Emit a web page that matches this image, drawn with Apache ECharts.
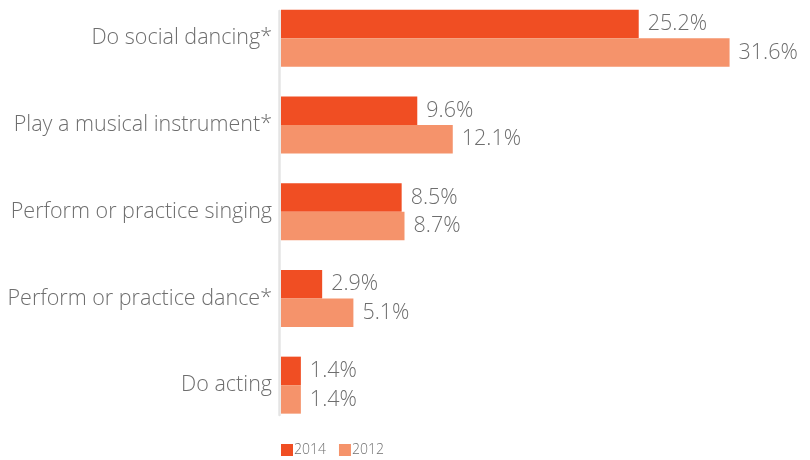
<!DOCTYPE html>
<html><head><meta charset="utf-8">
<script src="https://cdn.jsdelivr.net/npm/echarts@6/dist/echarts.min.js"></script>
<style>html,body{margin:0;padding:0;background:#fff;overflow:hidden}#c{width:810px;height:465px;margin-top:-5px}</style>
</head><body><div id="c"></div>
<script>
const categories = ["Do social dancing*", "Play a musical instrument*", "Perform or practice singing", "Perform or practice dance*", "Do acting"];
const values2014 = [25.2, 9.6, 8.5, 2.9, 1.4];
const values2012 = [31.6, 12.1, 8.7, 5.1, 1.4];
const seriesNames = ["2014", "2012"];

const chart = echarts.init(document.getElementById('c'), null, {renderer: 'canvas'});
const font = '"Open Sans", Lato, sans-serif';
const labelStyle = {show: true, position: 'right', distance: 9, color: '#6e6e6e', fontSize: 21.5, fontFamily: font, fontWeight: 300,
  formatter: p => p.value.toFixed(1) + '%'};
chart.setOption({
  animation: false,
  textStyle: {fontFamily: font},
  legend: {data: seriesNames, left: 281, top: 448, padding: 0, itemWidth: 12, itemHeight: 12, itemGap: 13, icon: 'rect',
    textStyle: {color: '#707070', fontSize: 14, fontFamily: font, fontWeight: 300, padding: [0, 0, 0, -4]}},
  grid: [
    {left: 281, top: 0, height: 433.5, width: 494, containLabel: false},
    {left: 279.5, top: 16, height: 404, width: 1}
  ],
  xAxis: [
    {type: 'value', gridIndex: 0, min: 0, max: 34.8, show: false},
    {type: 'value', gridIndex: 1, show: false}
  ],
  yAxis: [
    {type: 'category', gridIndex: 0, data: categories, inverse: true,
      axisLine: {show: false}, axisTick: {show: false},
      axisLabel: {color: '#6e6e6e', fontSize: 21.5, fontFamily: font, fontWeight: 300, margin: 9}},
    {type: 'value', gridIndex: 1, min: 0, max: 1,
      axisLine: {show: true, lineStyle: {color: '#e4e4e4', width: 2.5}},
      axisTick: {show: false}, axisLabel: {show: false}, splitLine: {show: false}}
  ],
  series: [
    {name: seriesNames[0], type: 'bar', data: values2014, barWidth: 28.5, barGap: 0,
      itemStyle: {color: '#F04E23'}, label: labelStyle},
    {name: seriesNames[1], type: 'bar', data: values2012, barWidth: 28.5, barGap: 0,
      itemStyle: {color: '#F5936B'}, label: labelStyle}
  ]
});
</script></body></html>
